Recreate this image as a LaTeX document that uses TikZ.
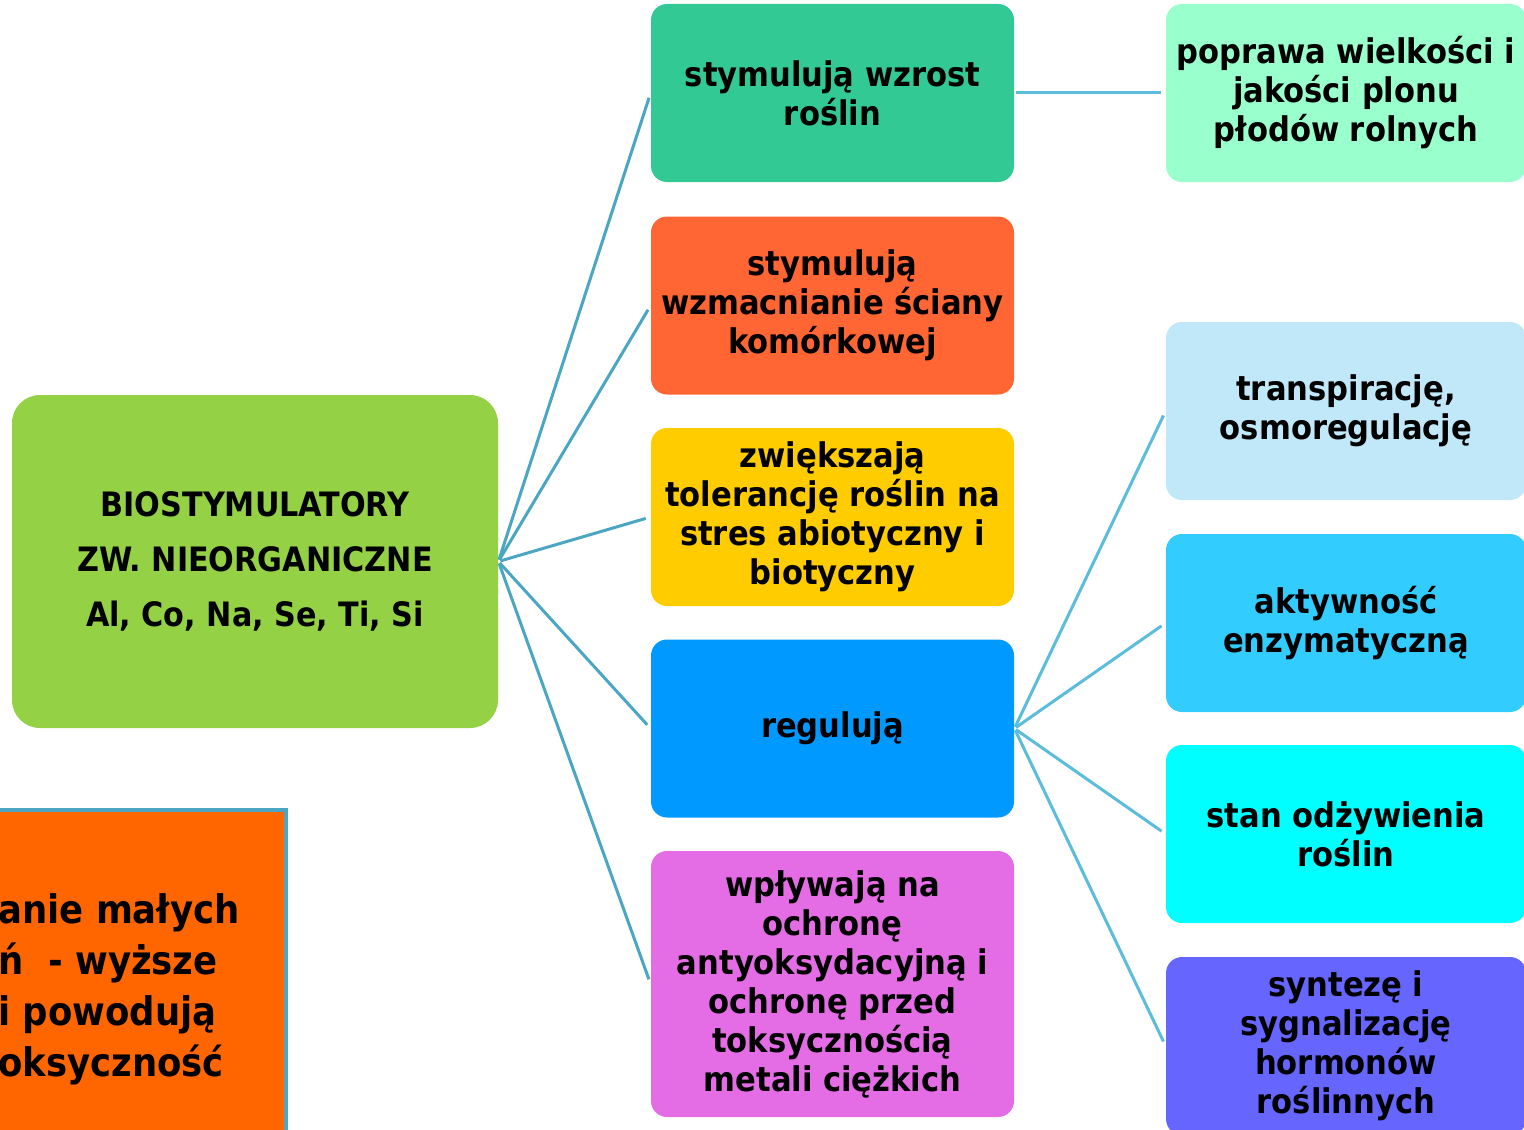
\documentclass[tikz,border=0pt]{standalone}
\usepackage{fontspec}
\setmainfont{DejaVu Sans Condensed}[BoldFont={DejaVu Sans Condensed Bold}]
\usetikzlibrary{positioning}

% palette
\definecolor{cMain}{HTML}{95D145}
\definecolor{cLeft}{HTML}{FF6600}
\definecolor{cLeftRim}{HTML}{4BA6C4}
\definecolor{cA}{HTML}{33C995}
\definecolor{cB}{HTML}{FF6633}
\definecolor{cC}{HTML}{FFCC00}
\definecolor{cD}{HTML}{0099FF}
\definecolor{cE}{HTML}{E46CE4}
\definecolor{rA}{HTML}{99FFCC}
\definecolor{rB}{HTML}{C0E8F8}
\definecolor{rC}{HTML}{33CCFF}
\definecolor{rD}{HTML}{00FFFF}
\definecolor{rE}{HTML}{6666FF}
\definecolor{linkMain}{HTML}{4BA6C4}
\definecolor{linkSide}{HTML}{5BBCDC}

\tikzset{
  x=0.5pt, y=-0.5pt,
  box/.style={rectangle, rounded corners=8pt, inner sep=0pt, align=center,
    font=\bfseries\fontsize{17pt}{19.5pt}\selectfont, text=black},
  midbox/.style={box, minimum width=181.5pt, minimum height=89pt},
  sidebox/.style={box, minimum width=180pt, minimum height=89pt},
  mainlink/.style={draw=linkMain, line width=1.5pt, shorten >=2.5pt, shorten <=1pt},
  sidelink/.style={draw=linkSide, line width=1.5pt, shorten >=2.5pt, shorten <=1pt},
}

\begin{document}
\begin{tikzpicture}
\useasboundingbox (0,0) rectangle (1524,1129);

% central topic
\node[box, fill=cMain, rounded corners=14pt, minimum width=243pt, minimum height=166.5pt,
      font=\bfseries\fontsize{16.8pt}{27.5pt}\selectfont] (main) at (255,561.5)
  {BIOSTYMULATORY\\ZW. NIEORGANICZNE\\Al, Co, Na, Se, Ti, Si};

% side note, partly off the page
\node[rectangle, fill=cLeft, draw=cLeftRim, line width=2pt, inner sep=0pt,
      minimum width=300pt, minimum height=170pt, anchor=north east] (note) at (288,808) {};
\node[anchor=west, align=left, inner sep=0pt,
      font=\bfseries\fontsize{19.7pt}{25.5pt}\selectfont] (notetext) at (-2,989)
  {anie małych\\ń\ \ - wyższe\\i powodują\\oksyczność};

% effects
\node[midbox, fill=cA] (ma) at (832.5,93)  {stymulują wzrost\\roślin};
\node[midbox, fill=cB] (mb) at (832.5,305.5) {stymulują\\wzmacnianie ściany\\komórkowej};
\node[midbox, fill=cC] (mc) at (832.5,517) {zwiększają\\tolerancję roślin na\\stres abiotyczny i\\biotyczny};
\node[midbox, fill=cD] (md) at (832.5,728.5) {regulują};
\node[midbox, fill=cE, minimum height=133pt] (me) at (832.5,984)
  {wpływają na\\ochronę\\antyoksydacyjną i\\ochronę przed\\toksycznością\\metali ciężkich};

% outcomes
\node[sidebox, fill=rA] (ra) at (1346,93)  {poprawa wielkości i\\jakości plonu\\płodów rolnych};
\node[sidebox, fill=rB] (rb) at (1346,411) {transpirację,\\osmoregulację};
\node[sidebox, fill=rC] (rc) at (1346,623) {aktywność\\enzymatyczną};
\node[sidebox, fill=rD] (rd) at (1346,834) {stan odżywienia\\roślin};
\node[sidebox, fill=rE] (re) at (1346,1046) {syntezę i\\sygnalizację\\hormonów\\roślinnych};

% connectors
\foreach \t in {ma,mb,mc,md,me}
  \draw[mainlink] (main.east) -- (\t.west);
\draw[sidelink] (ma.east) -- (ra.west);
\foreach \t in {rb,rc,rd,re}
  \draw[sidelink] (md.east) -- (\t.west);
\end{tikzpicture}
\end{document}
